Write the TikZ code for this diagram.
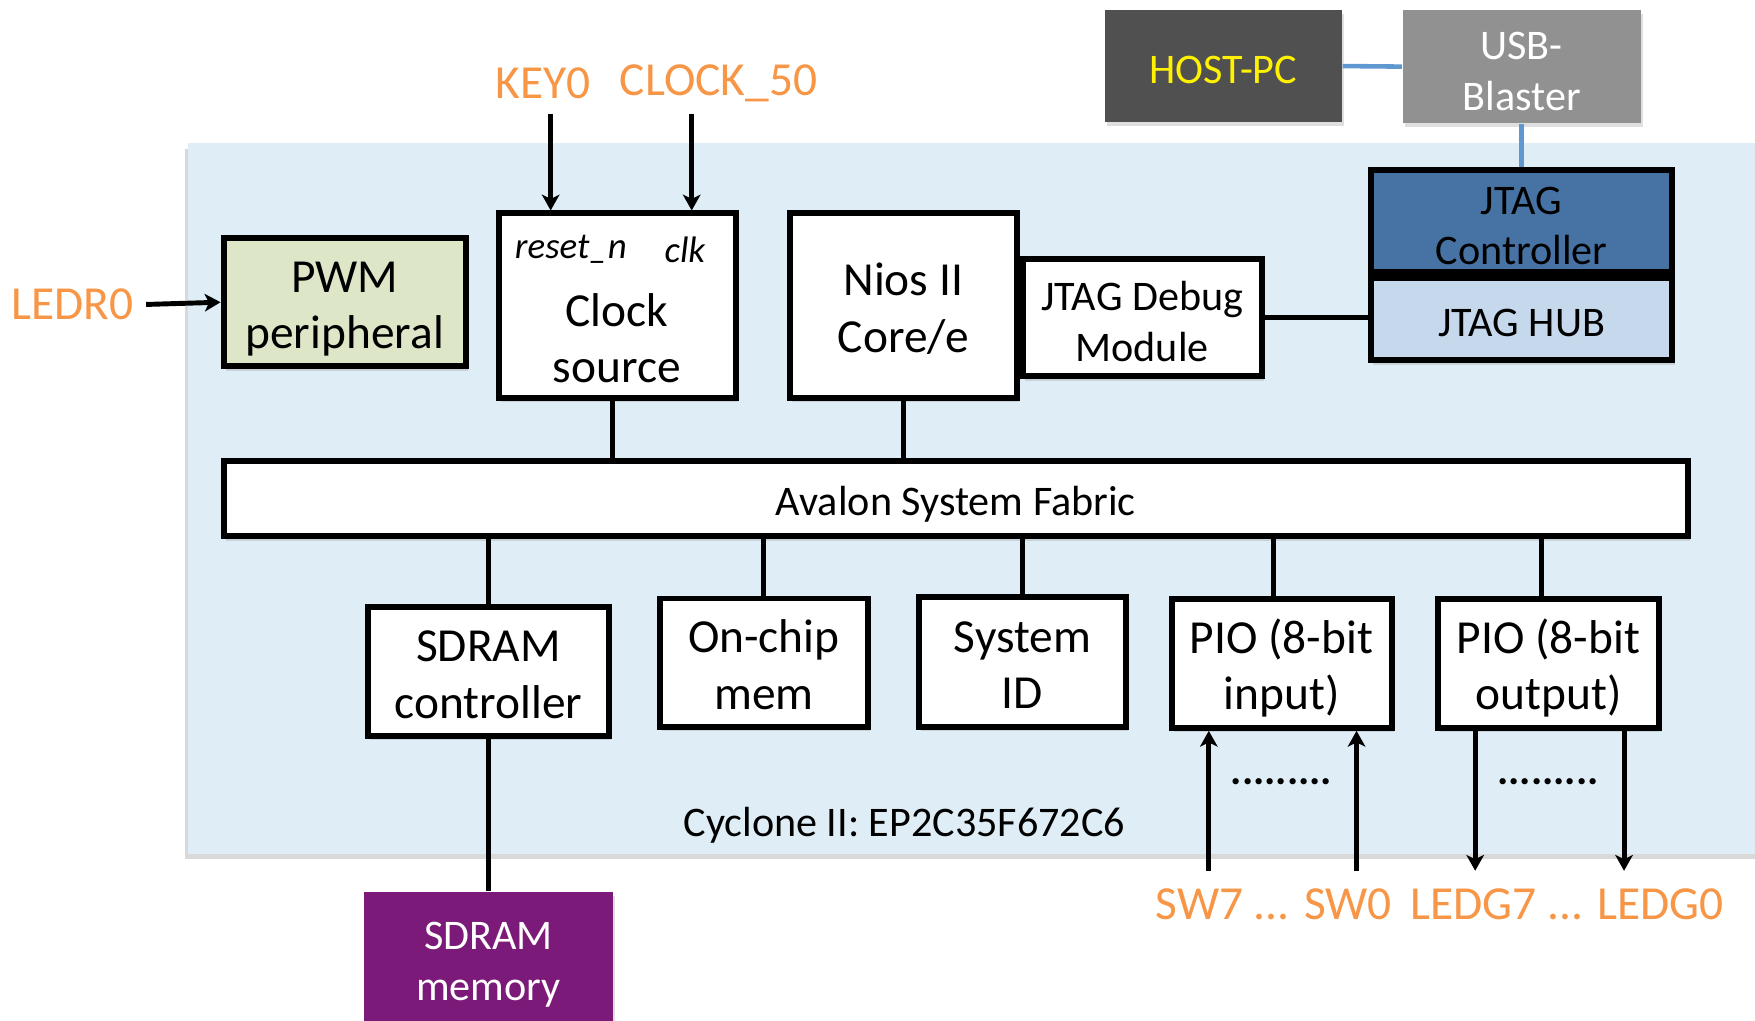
\documentclass[tikz,border=0pt]{standalone}
\usepackage{fontspec}
\setmainfont{Carlito}
\usetikzlibrary{positioning,shadows,arrows.meta}

\definecolor{chipblue}{HTML}{DFEEF6}
\definecolor{ledorange}{HTML}{F79646}
\definecolor{pwmgreen}{HTML}{DDE7C8}
\definecolor{ctlblue}{HTML}{4672A4}
\definecolor{hubblue}{HTML}{C5D8EC}
\definecolor{hostgray}{HTML}{505050}
\definecolor{usbgray}{HTML}{919191}
\definecolor{sdrampurple}{HTML}{7B1A78}
\definecolor{linkblue}{HTML}{5F97D0}

\begin{document}
\begin{tikzpicture}[
    x=0.011193cm, y=-0.011193cm,
    >={Stealth[length=4.5pt, width=5pt, inset=1.2pt]},
    font=\fontsize{13.5}{16}\selectfont,
    box/.style={draw, line width=1.7pt, fill=white, align=center, inner sep=0pt,
      text depth=0pt, execute at begin node={\rule{0pt}{0.82em}},
      drop shadow={shadow xshift=0.6pt, shadow yshift=-1.2pt, opacity=0.25}},
    ext/.style={align=center, inner sep=0pt, text=white,
      text depth=0pt, execute at begin node={\rule{0pt}{0.82em}},
      drop shadow={shadow xshift=0.6pt, shadow yshift=-1.2pt, opacity=0.25},
      font=\fontsize{12}{14.5}\selectfont},
    small/.style={font=\fontsize{12}{14.5}\selectfont},
    two/.style={text height=26.5pt},
    twosmall/.style={text height=25pt},
    pin/.style={text=ledorange},
    bus/.style={line width=1.4pt},
    link/.style={linkblue, line width=1.3pt},
  ]
  \useasboundingbox (0,0) rectangle (1568,912);

  % chip area
  \fill[chipblue, drop shadow={shadow xshift=-0.8pt, shadow yshift=-1.5pt, opacity=0.3}]
    (168,128) rectangle (1600,763);

  % outside the chip
  \node[ext, fill=hostgray, text=yellow, minimum width=2.373cm, minimum height=1.119cm] (host) at (1093,59) {HOST-PC};
  \node[ext, twosmall, fill=usbgray, minimum width=2.384cm, minimum height=1.130cm] (usb) at (1359.5,59.5) {USB-\\Blaster};
  \node[ext, twosmall, fill=sdrampurple, minimum width=2.496cm, minimum height=1.287cm] (sdram) at (436.5,854.5) {SDRAM\\memory};

  % top row
  \node[box, two, fill=pwmgreen, minimum width=2.425cm, minimum height=1.283cm] (pwm) at (308,270) {PWM\\peripheral};
  \node[box, minimum width=2.369cm, minimum height=1.843cm] (clk) at (551.5,273) {};
  \node[font=\fontsize{10.5}{12}\selectfont\itshape] (rstn) at (510,223) {reset\_n};
  \node[font=\fontsize{10.5}{12}\selectfont\itshape] (clkin) at (612,223) {clk};
  \node[align=center] (clktxt) at (551,302) {Clock\\source};
  \node[box, two, minimum width=2.268cm, minimum height=1.843cm] (nios) at (807,273) {Nios II\\Core/e};
  \node[box, small, twosmall, minimum width=2.391cm, minimum height=1.171cm] (dbg) at (1020.5,284) {JTAG Debug\\Module};
  \node[box, small, twosmall, fill=ctlblue, minimum width=3.018cm, minimum height=1.026cm] (jtagctl) at (1359.5,197.5) {JTAG\\Controller};
  \node[box, small, fill=hubblue, minimum width=3.018cm, minimum height=0.821cm, below=0 of jtagctl] (jtaghub) {JTAG HUB};

  % fabric
  \node[box, small, minimum width=14.648cm, minimum height=0.757cm] (fabric) at (854,445.5) {Avalon System Fabric};

  % bottom row
  \node[box, two, minimum width=2.414cm, minimum height=1.283cm] (sdramc) at (436.5,600) {SDRAM\\controller};
  \node[box, two, minimum width=2.078cm, minimum height=1.283cm] (onchip) at (682.5,592) {On-chip\\mem};
  \node[box, two, minimum width=2.078cm, minimum height=1.294cm] (sysid) at (913.5,591.5) {System\\ID};
  \node[box, two, minimum width=2.201cm, minimum height=1.294cm] (pioin) at (1145,592.5) {PIO (8-bit\\input)};
  \node[box, two, minimum width=2.212cm, minimum height=1.294cm] (pioout) at (1383.5,592.5) {PIO (8-bit\\output)};

  \node[small] (chipname) at (808,737) {Cyclone II: EP2C35F672C6};
  \node[font=\fontsize{12}{14}\selectfont\bfseries] (indots) at (1145,698) {.........};
  \node[font=\fontsize{12}{14}\selectfont\bfseries] (outdots) at (1383,698) {.........};

  % pins
  \node[pin] (ledr) at (65,272) {LEDR0};
  \node[pin] (key) at (485,74) {KEY0};
  \node[pin] (clock) at (642,74) {CLOCK\_50};
  \node[pin] (sw) at (1138,808) {SW7 ... SW0};
  \node[pin] (ledg) at (1400,808) {LEDG7 ... LEDG0};

  \coordinate (keyend) at (492,102);
  \coordinate (clockend) at (618,102);
  \coordinate (sw7) at (1080,778);
  \coordinate (sw0) at (1212,778);
  \coordinate (ledg7) at (1318,778);
  \coordinate (ledg0) at (1451,778);

  % pin arrows
  \draw[bus, ->] (ledr.east) -- (pwm.west);
  \draw[bus, ->] (keyend) -- (keyend |- clk.north);
  \draw[bus, ->] (clockend) -- (clockend |- clk.north);
  \draw[bus, ->] (sw7) -- (sw7 |- pioin.south);
  \draw[bus, ->] (sw0) -- (sw0 |- pioin.south);
  \draw[bus, ->] (ledg7 |- pioout.south) -- (ledg7);
  \draw[bus, ->] (ledg0 |- pioout.south) -- (ledg0);

  % fabric connections
  \draw[bus] ([xshift=-0.05cm]clk.south) -- ([xshift=-0.05cm]clk.south |- fabric.north);
  \draw[bus] (nios.south) -- (nios.south |- fabric.north);
  \draw[bus] (sdramc.north) -- (sdramc.north |- fabric.south);
  \draw[bus] (onchip.north) -- (onchip.north |- fabric.south);
  \draw[bus] (sysid.north) -- (sysid.north |- fabric.south);
  \draw[bus] ([xshift=-0.08cm]pioin.north) -- ([xshift=-0.08cm]pioin.north |- fabric.south);
  \draw[bus] ([xshift=-0.07cm]pioout.north) -- ([xshift=-0.07cm]pioout.north |- fabric.south);
  \draw[bus] (sdramc.south) -- (sdram.north);

  % debug links
  \draw[bus] (dbg.east) -- (dbg.east -| jtaghub.west);
  \draw[link] (host.east) -- (usb.west);
  \draw[link] (usb.south) -- (jtagctl.north);

\end{tikzpicture}
\end{document}
